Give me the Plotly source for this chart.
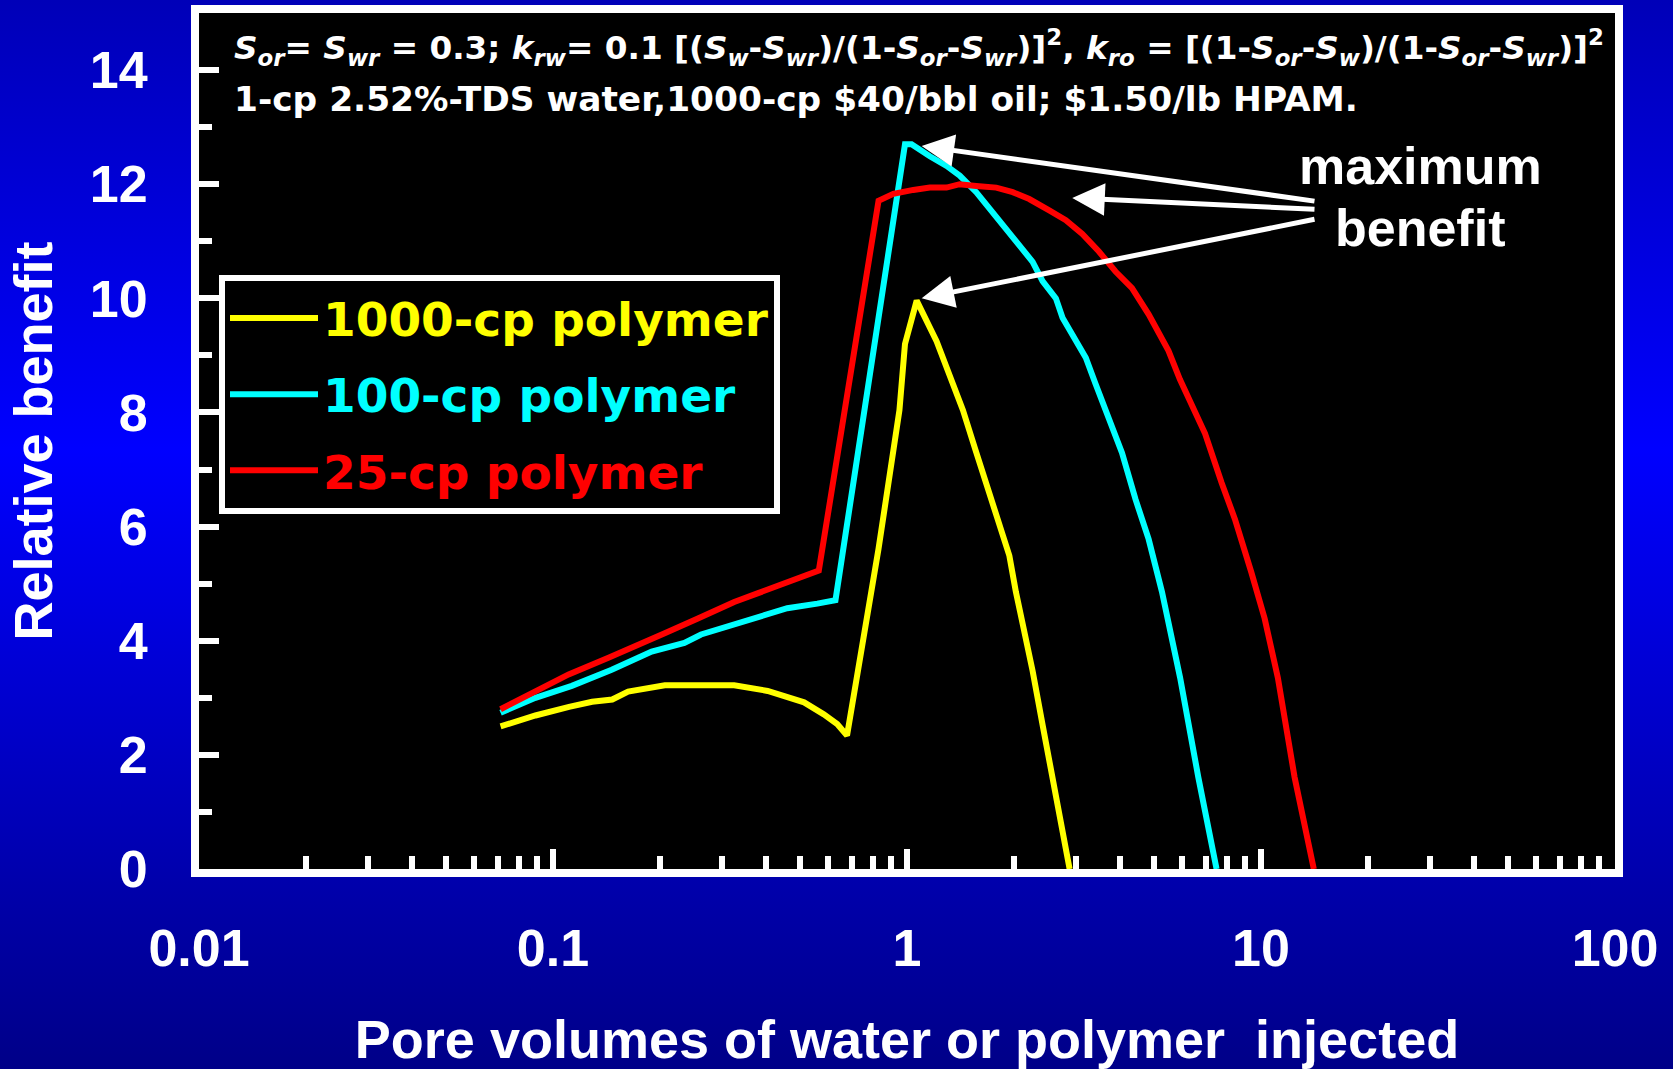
import base64
import numpy as np
import plotly.graph_objects as go

# ---------------- data ----------------
series_names = ["1000-cp polymer", "100-cp polymer", "25-cp polymer"]
series_colors = ["#FFFF00", "#00FFFF", "#FF0000"]

pv_1000 = [0.0711, 0.0892, 0.111, 0.129, 0.147, 0.163, 0.207, 0.325, 0.404, 0.512,
           0.582, 0.635, 0.677, 0.714, 0.754, 0.787, 0.831, 0.871, 0.952, 0.987,
           1.065, 1.212, 1.32, 1.439, 1.56, 1.70, 1.824, 1.946, 2.03, 2.144,
           2.264, 2.42, 2.58, 2.88]
rb_1000 = [2.50, 2.69, 2.84, 2.93, 2.97, 3.11, 3.22, 3.22, 3.12, 2.92,
           2.71, 2.54, 2.34, 3.18, 3.99, 4.80, 5.61, 6.45, 8.04, 9.20,
           9.96, 9.25, 8.62, 8.04, 7.35, 6.65, 6.07, 5.49, 4.86, 4.22,
           3.47, 2.50, 1.61, 0.0]

pv_100 = [0.0711, 0.0892, 0.113, 0.1465, 0.19, 0.235, 0.262, 0.362, 0.412, 0.459,
          0.558, 0.628, 0.987, 1.03, 1.16, 1.293, 1.409, 1.569, 1.711, 1.865,
          2.077, 2.264, 2.415, 2.634, 2.75, 3.0, 3.2, 3.41, 3.716, 4.05,
          4.42, 4.815, 5.25, 5.91, 6.65, 7.49]
rb_100 = [2.74, 3.00, 3.21, 3.49, 3.81, 3.96, 4.11, 4.39, 4.48, 4.57,
          4.65, 4.71, 12.70, 12.70, 12.49, 12.32, 12.15, 11.86, 11.57, 11.28,
          10.93, 10.64, 10.30, 10.0, 9.66, 9.25, 8.96, 8.50, 7.92, 7.29,
          6.48, 5.78, 4.86, 3.35, 1.61, 0.0]

pv_25 = [0.0711, 0.0892, 0.1107, 0.1434, 0.1667, 0.2068, 0.2566, 0.325, 0.378, 0.449,
         0.5115, 0.5635, 0.831, 0.915, 1.042, 1.16, 1.293, 1.409, 1.569, 1.787,
         1.989, 2.215, 2.522, 2.81, 3.128, 3.484, 3.882, 4.322, 4.815, 5.48,
         5.9, 6.95, 7.74, 8.44, 9.39, 10.24, 11.16, 12.44, 14.1]
rb_25 = [2.80, 3.12, 3.41, 3.70, 3.87, 4.13, 4.39, 4.68, 4.83, 5.00,
         5.14, 5.23, 11.71, 11.83, 11.90, 11.94, 11.94, 12.00, 11.97, 11.94,
         11.86, 11.74, 11.54, 11.37, 11.13, 10.82, 10.47, 10.18, 9.72, 9.08,
         8.58, 7.63, 6.77, 6.13, 5.20, 4.39, 3.35, 1.61, 0.0]

x_tick_vals = [0.01, 0.1, 1, 10, 100]
x_tick_text = ["0.01", "0.1", "1", "10", "100"]
x_minor_vals = [0.02, 0.03, 0.04, 0.05, 0.06, 0.07, 0.08, 0.09,
                0.2, 0.3, 0.4, 0.5, 0.6, 0.7, 0.8, 0.9,
                2, 3, 4, 5, 6, 7, 8, 9,
                20, 30, 40, 50, 60, 70, 80, 90]
y_tick_vals = [0, 2, 4, 6, 8, 10, 12, 14]
y_tick_text = ["0", "2", "4", "6", "8", "10", "12", "14"]
y_minor_vals = [1, 3, 5, 7, 9, 11, 13]

# arrows: (head x, head y) <- common tail near the "maximum benefit" label
arrow_heads_x = [1.10, 2.93, 1.10]
arrow_heads_y = [12.67, 11.76, 10.00]
arrow_tails_x = [14.3, 14.3, 14.3]
arrow_tails_y = [11.70, 11.56, 11.39]

x_title = "Pore volumes of water or polymer&nbsp; injected"
y_title = "Relative benefit"
note_line1 = ("<i>S</i><sub><i>or</i></sub>= <i>S</i><sub><i>wr</i></sub> = 0.3; "
              "<i>k</i><sub><i>rw</i></sub>= 0.1 [(<i>S</i><sub><i>w</i></sub>-<i>S</i><sub><i>wr</i></sub>)/"
              "(1-<i>S</i><sub><i>or</i></sub>-<i>S</i><sub><i>wr</i></sub>)]<sup>2</sup>, "
              "<i>k</i><sub><i>ro</i></sub> = [(1-<i>S</i><sub><i>or</i></sub>-<i>S</i><sub><i>w</i></sub>)/"
              "(1-<i>S</i><sub><i>or</i></sub>-<i>S</i><sub><i>wr</i></sub>)]<sup>2</sup>")
note_line2 = "1-cp 2.52%-TDS water,1000-cp $40/bbl oil; $1.50/lb HPAM."
label_lines = ["maximum", "benefit"]

# ---------------- figure ----------------
W, H = 1673, 1069
ML, MR, MT, MB = 199, 58, 13, 200
PW, PH = W - ML - MR, H - MT - MB
PB = H - MB  # pixel row of plot bottom


def py(pix):
    """pixel row -> paper y"""
    return (PB - pix) / PH


def px(pix):
    """pixel column -> paper x"""
    return (pix - ML) / PW


ARIAL = "Liberation Sans, Arial, sans-serif"
WIDE = "DejaVu Sans, Verdana, sans-serif"

fig = go.Figure()
series = [(pv_1000, rb_1000), (pv_100, rb_100), (pv_25, rb_25)]
for (xs, ys), name, col in zip(series, series_names, series_colors):
    fig.add_trace(go.Scatter(
        x=xs, y=ys, mode="lines", legendgroup=name,
        name=f"<span style='color:{col}'>{name}</span>",
        line=dict(color=col, width=6), hoverinfo="skip"))

svg = ('<svg xmlns="http://www.w3.org/2000/svg" viewBox="0 0 10 10" preserveAspectRatio="none">'
       '<defs><linearGradient id="g" x1="0" y1="0" x2="0" y2="1">'
       '<stop offset="0" stop-color="#0000B8"/>'
       '<stop offset="0.42" stop-color="#0000FF"/>'
       '<stop offset="1" stop-color="#000088"/>'
       '</linearGradient></defs><rect width="10" height="10" fill="url(#g)"/></svg>')
bg_src = "data:image/svg+xml;base64," + base64.b64encode(svg.encode()).decode()

tick_font = dict(family=ARIAL, size=52, color="white", weight="bold")
title_font = dict(family=ARIAL, size=54, color="white", weight="bold")

common_axis = dict(ticks="inside", ticklen=20, tickwidth=6, tickcolor="white",
                   showline=True, linewidth=8, linecolor="white", mirror=True,
                   showgrid=False, zeroline=False, tickfont=tick_font,
                   automargin=False, layer="below traces")

fig.update_layout(
    width=W, height=H,
    margin=dict(l=ML, r=MR, t=MT, b=MB, pad=0, autoexpand=False),
    paper_bgcolor="#0000C8", plot_bgcolor="black",
    images=[dict(source=bg_src, xref="paper", yref="paper",
                 x=-ML / PW, y=PB / PH, sizex=W / PW, sizey=H / PH,
                 xanchor="left", yanchor="top", sizing="stretch", layer="below")],
    shapes=[dict(type="rect", xref="paper", yref="paper", x0=0, x1=1, y0=0, y1=1,
                 fillcolor="black", line=dict(width=0), layer="below")],
    showlegend=True,
    legend=dict(x=px(219), y=py(275), xanchor="left", yanchor="top",
                bgcolor="black", bordercolor="white", borderwidth=6,
                font=dict(family=WIDE, size=47, color="white", weight="bold"),
                itemwidth=88, traceorder="grouped", tracegroupgap=12),
    xaxis=dict(type="log", range=[-2, 2], tickmode="array",
               tickvals=x_tick_vals, ticktext=x_tick_text,
               minor=dict(tickmode="array", tickvals=x_minor_vals, ticks="inside",
                          ticklen=13, tickwidth=6, tickcolor="white", showgrid=False),
               ticklabelstandoff=27,
               title=dict(text=x_title, font=title_font, standoff=47),
               **common_axis),
    yaxis=dict(range=[0, 15], tickmode="array",
               tickvals=y_tick_vals, ticktext=y_tick_text,
               minor=dict(tickmode="array", tickvals=y_minor_vals, ticks="inside",
                          ticklen=13, tickwidth=6, tickcolor="white", showgrid=False),
               ticklabelstandoff=33,
               title=dict(text=y_title, font=title_font, standoff=23),
               **common_axis),
)

ann = []
ann.append(dict(text=note_line1, xref="paper", yref="paper", x=px(232),
                y=py(48), xanchor="left", yanchor="middle", showarrow=False,
                font=dict(family=WIDE, size=32.7, color="white", weight="bold")))
ann.append(dict(text=note_line2, xref="paper", yref="paper", x=px(232),
                y=py(99), xanchor="left", yanchor="middle", showarrow=False,
                font=dict(family=WIDE, size=34.4, color="white", weight="bold")))
for txt, cy in zip(label_lines, (166, 228)):
    ann.append(dict(text=txt, xref="paper", yref="paper", x=px(1420),
                    y=py(cy), xanchor="center", yanchor="middle",
                    showarrow=False,
                    font=dict(family=ARIAL, size=52, color="white", weight="bold")))
for hx, hy, tx, ty in zip(arrow_heads_x, arrow_heads_y, arrow_tails_x, arrow_tails_y):
    ann.append(dict(text="", x=np.log10(hx), y=hy, xref="x", yref="y",
                    ax=np.log10(tx), ay=ty, axref="x", ayref="y",
                    showarrow=True, arrowhead=2, arrowsize=1.3, arrowwidth=5,
                    arrowcolor="white", standoff=0, startstandoff=0))
fig.update_layout(annotations=ann)

fig.write_html("out.html")
